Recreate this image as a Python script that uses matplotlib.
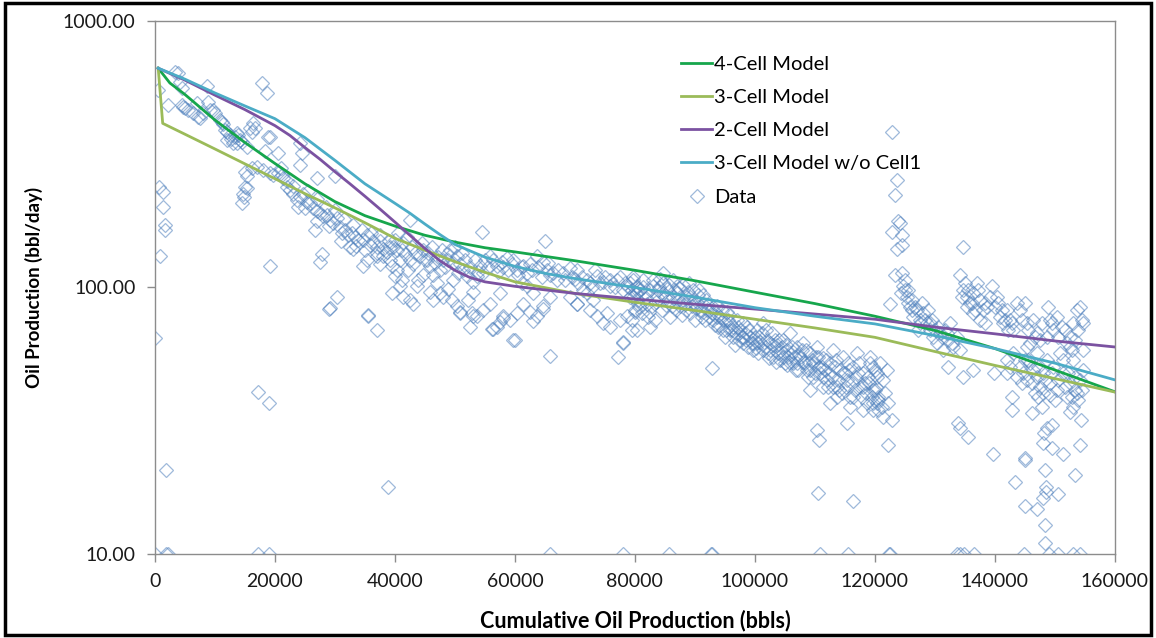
import matplotlib
matplotlib.use("Agg")
import matplotlib.pyplot as plt
from matplotlib.lines import Line2D
from matplotlib.patches import Rectangle
from matplotlib.ticker import FixedLocator, FuncFormatter, NullLocator

plt.rcParams['font.family'] = ['Lato', 'DejaVu Sans']

# ---- model curves: cumulative oil (bbl) vs. rate (bbl/day) ----
cell4_cum = [550, 2500, 5000, 10000, 15000, 20000, 25000, 30000, 35000, 40000, 45000, 50000,
             55000, 60000, 70000, 80000, 90000, 100000, 110000, 120000, 130000, 140000,
             150000, 160000]
cell4_rate = [665, 585, 530, 425, 350, 292, 245, 210, 186, 170, 157, 148,
              141, 136, 126, 116, 106, 96, 87, 78, 69, 59,
              49, 40.6]

cell3_cum = [550, 1300, 5000, 10000, 15000, 20000, 25000, 30000, 35000, 40000, 45000,
             50000, 55000, 60000, 70000, 80000, 90000, 100000, 110000, 120000, 130000,
             140000, 150000, 160000]
cell3_rate = [665, 413, 376, 331, 291, 256, 225, 199, 175, 153, 138,
              125, 114, 105, 95, 88, 82, 76, 70.5, 65, 57.5,
              51, 45.5, 40.5]

cell2_cum = [550, 5000, 10000, 15000, 20000, 22500, 25000, 27500, 30000, 32500, 35000,
             37500, 40000, 42500, 45000, 47500, 50000, 52500, 55000, 60000, 70000, 80000,
             90000, 100000, 110000, 120000, 130000, 140000, 150000, 160000]
cell2_rate = [665, 600, 527, 465, 405, 372, 335, 303, 272, 245, 220,
              197, 176, 157, 140, 126, 116, 109, 105, 101, 95, 90.5,
              86.5, 83, 79.5, 76, 71, 67, 63, 59.8]

cell3w_cum = [550, 5000, 10000, 15000, 20000, 25000, 30000, 35000, 40000, 42500, 45000,
              47500, 50000, 55000, 60000, 65000, 70000, 80000, 90000, 100000, 110000,
              120000, 130000, 140000, 150000, 160000]
cell3w_rate = [665, 605, 537, 480, 430, 365, 300, 245, 207, 190, 173,
               158, 145, 130, 120, 113, 108, 100, 92, 84, 78,
               73, 66, 59, 52, 45]

# ---- production data ----
early_cum = [0, 550, 720, 830, 1390, 1390, 1670, 1670, 1830, 2220, 3330, 3830, 4170, 4440,
             4450, 4720, 5000, 5560, 6390, 6940, 7220, 7500, 8060, 8610, 8890, 9170, 9720,
             10000, 10830, 11110, 11390, 11670, 11950, 11950, 12500, 12600, 13050, 13330,
             13610, 13610, 13900, 14170, 14450, 14450, 14720, 14800, 15000, 15000, 15280,
             15280, 15280, 15830, 16110, 16110, 16390, 16650, 16950, 17110, 17780, 18060,
             18330, 18610, 18890, 19000, 19170, 19170, 19170, 19720]
early_rate = [64.6, 551, 239, 131, 229, 201, 171, 164, 20.7, 484, 645, 637, 590, 484,
              559, 476, 470, 463, 451, 491, 437, 431, 451, 570, 498, 463, 463,
              451, 425, 419, 412, 390, 358, 384, 374, 362, 347, 368,
              347, 379, 372, 357, 352, 207, 225, 218, 272, 239, 261,
              236, 338, 396, 384, 280, 413, 396, 284, 40.6, 583, 276,
              324, 535, 368, 36.7, 120, 268, 368, 264]

mid1_cum = [20560, 20560, 21000, 21110, 21390, 21940, 22000, 22500, 23000, 23060, 23610,
            23890, 24170, 24170, 24170, 24450, 24720, 25000, 25280, 25500, 25830, 26390,
            26670, 26940, 26940, 27000, 27000, 27500, 27500, 27780, 28060, 28500, 28610,
            29000, 29050, 29170, 29170, 29720, 30000, 30000, 30280, 30280, 30830, 31000,
            31110, 31500, 31670, 32220, 32500, 32780, 33000, 33060, 33330, 33500, 33890,
            34500, 34720, 34720, 35000, 35280, 35280, 35550, 35560, 35830, 36000, 36390,
            36940, 36940, 36950, 37000, 37500, 37500, 37500, 38060, 38060, 38610, 38890,
            39000, 39170, 39170, 39500]
mid1_rate = [319, 268, 280, 264, 257, 239, 250, 232, 240, 225, 213,
             201, 289, 347, 219, 319, 225, 198, 210, 230, 207, 198,
             164, 193, 257, 215, 178, 190, 125, 134, 185, 200, 187,
             170, 83, 179, 83.6, 174, 261, 195, 182, 92.5, 169, 150,
             160, 180, 164, 157, 142, 160, 172, 140, 155, 143, 151,
             165, 151, 120, 138, 157, 127, 78, 79, 144, 160, 149,
             142, 131, 69, 135, 149, 123, 158, 140, 131, 136, 17.8,
             150, 142, 127, 120]

mid2_cum = [39450, 39720, 40000, 40280, 40280, 40560, 40830, 40830, 41110, 41390, 41390,
            41670, 42220, 42500, 42500, 42500, 43060, 43060, 43610, 43890, 44170, 44720,
            44720, 45280, 45830, 45830, 46390, 46390, 46950, 47500, 47500, 48060, 48060,
            48610, 48890, 49170, 49450, 49720, 50000, 50280, 50280, 50560, 50830, 50830,
            50830, 51390, 51950, 52220, 52500, 52780, 53000, 53060, 53060, 53610, 53610,
            54170, 54450, 54730, 55000, 55840, 55840, 56110, 56330, 56950, 56950, 57500,
            57500, 57780, 58000, 58060, 58610, 59170, 59450, 59720, 60000, 60280, 60280,
            61110, 61390, 61390, 61950, 62500, 62500, 63000, 63060, 63610, 63610, 64670,
            64720, 64720, 65000, 65280, 65830, 65840, 65840, 66950, 68060, 69170, 69170,
            70000, 70280, 70330, 70560, 71390, 71950, 72500, 72500, 73060, 73610, 73610,
            74720, 74730, 75280, 75840, 75840, 76950, 77220, 77500, 78000, 78060, 78060,
            78610, 79170, 79450, 80000, 80280, 80560]
mid2_rate = [95, 142, 110, 138, 116, 160, 127, 101, 107, 147, 92.5,
             134, 116, 179, 127, 90, 123, 87, 101, 107, 131, 138,
             111, 127, 120, 96, 111, 90, 104, 116, 95, 127, 92.5,
             134, 99, 138, 90, 107, 142, 131, 85, 113, 123, 80,
             81, 116, 110, 90, 71, 80, 78, 96, 105, 110, 78,
             120, 162, 82, 127, 131, 87, 70, 70, 120, 71, 95,
             74, 125, 77, 78, 129, 75.5, 123, 63.5, 63.5, 116, 80,
             104, 120, 87, 101, 123, 81, 75, 95, 131, 78, 83,
             125, 85, 149, 116, 55.5, 111, 92.5, 107, 113, 118, 92.5,
             108, 87, 87, 104, 98, 95, 104, 82.4, 90, 110, 78,
             73.5, 105, 80, 101, 71, 107, 55, 75.5, 62, 98, 62.7,
             78, 92.5, 69, 81, 95, 87]

mid3_cum = [40000, 41110, 41950, 42780, 43340, 44450, 45000, 45560, 46110, 46670, 47230,
            47780, 48340, 48890, 49730, 51120, 51670, 52500, 53340, 53890, 54730, 55560,
            56390, 57230, 58060, 58890, 59730, 60560, 61110, 61950, 62780, 63890, 64450,
            65560, 66390, 67230, 68340, 69450, 70280, 71120, 71950, 72780, 73340, 74170,
            75000, 75840, 76670, 77500, 78340, 78890, 79730, 80280]
mid3_rate = [150.7, 138.3, 155.1, 142.3, 134.3, 146.4, 126.8, 134.3, 142.3, 123.2, 130.5,
             138.3, 119.7, 126.8, 123.2, 134.3, 126.8, 119.7, 126.8, 114.7, 113.0, 119.7,
             126.8, 114.7, 119.7, 116.3, 126.8, 111.4, 119.7, 113.0, 116.3, 119.7, 109.8,
             123.2, 113.0, 116.3, 106.7, 109.8, 116.3, 109.8, 106.7, 100.7, 116.3, 103.7,
             109.8, 106.7, 100.7, 109.8, 103.7, 100.7, 106.7, 100.7]

late_cum = [79170, 79450, 79450, 79730, 80000, 80280, 80280, 80560, 80840, 81110, 81390,
            81670, 81950, 82230, 82500, 82500, 82780, 83060, 83340, 83610, 83890, 84170,
            84450, 84730, 84730, 85000, 85280, 85560, 85840, 86110, 86390, 86670, 86950,
            86950, 87230, 87500, 87780, 88060, 88340, 88620, 88890, 89170, 89170, 89450,
            89730, 90000, 90280, 90560, 90840, 91110, 91390, 91390, 91670, 91950, 92230,
            92780, 93060, 93340, 93620, 93620, 93890, 94170, 94450, 94730, 95000, 95280,
            95560, 95840, 95840, 96110, 96390, 96670, 96950, 97230, 97500, 97780, 98060,
            98060, 98340, 98620, 98890, 99170, 99450, 99730, 100000, 100280, 100280, 100560,
            100840, 101110, 101390, 101670, 101950, 102230, 102500, 102500, 102780, 103060,
            103340, 103620, 103890, 104170, 104450, 104730, 104730, 105000, 105280, 105280,
            105560, 105840, 106120, 106390, 106670, 106950, 106950, 107230, 107500, 107780,
            108060, 108340, 108620, 108890, 109170, 109170, 109170, 109450, 109730, 110000,
            110280, 110560, 110840, 111120, 111390, 111390, 111670, 111950, 112230, 112500,
            112500, 112780, 113060, 113340, 113620, 113620, 113890, 114170, 114450, 114730,
            115000, 115280, 115560, 115840, 115840, 116120, 116390, 116670, 116950, 117230,
            117500, 117780, 118060, 118060, 118340, 118620, 118890, 119170, 119170, 119450,
            119730, 119730, 119730, 120000, 120000, 120280, 120280, 120280, 120560, 120560,
            120840, 121110, 121390, 121390, 121670, 121950, 122220]
late_rate = [104, 98, 75.5, 92.5, 82.4, 69.3, 101, 90, 98, 80, 107,
             95, 87, 77.8, 71.3, 98, 85, 101, 75.5, 92.5, 98, 108,
             82.4, 113, 104, 92.5, 99, 90, 77.8, 85, 107, 98, 95,
             101, 90, 85, 78.9, 102, 87, 92.5, 96.5, 80, 92.5, 85,
             98, 75.5, 88.5, 94, 82.4, 77.8, 94, 87, 75.5, 82.4, 86,
             80, 75.5, 72.3, 85, 77.8, 71.3, 77.8, 82.4, 69.3, 65.4, 81,
             75.5, 73.4, 69.3, 69.3, 65.4, 60.8, 75.5, 71.3, 69.3, 65.4, 61.7,
             65.4, 67.3, 71.3, 60, 65.4, 61.7, 58.2, 65.4, 69.3, 61.7, 56.6,
             62.7, 67.3, 73.4, 60, 63.5, 56.6, 61.7, 58.2, 67.3, 55,
             63.5, 60.8, 56.6, 53.5, 60, 63.5, 56.6, 52, 58.2, 51.2,
             55, 67.3, 60, 52, 55, 60, 52, 49, 55, 58.2,
             61.7, 52, 49, 46.3, 56.6, 41.2, 49, 53.5, 52, 47.6,
             60, 55, 47.6, 50.5, 54.2, 42.5, 49, 45, 42.5, 52,
             36.7, 46.3, 58.2, 50.5, 42.5, 38.9, 45, 49, 40.1, 55,
             47.6, 45, 52, 38.9, 35.7, 43.7, 50.5, 41.2, 56.6, 47.6,
             42.5, 38.9, 47.6, 34.7, 43.7, 36.7, 46.3, 52, 55, 38.9,
             41.2, 50.5, 34.7, 49, 41.2, 46.3, 36.7, 47.6, 34.7, 37.8,
             51.9, 35.7, 45, 32.7, 40.1, 49, 36.8]

late2_cum = [79610, 80170, 80730, 81280, 81840, 82390, 82950, 83500, 84060, 84610, 85170,
             85730, 86280, 86840, 87390, 87950, 88500, 89060, 89620, 90170, 90730, 91280,
             91840, 92390, 92950, 93500, 94060, 94610, 95170, 95730, 96280, 96840, 97390,
             97950, 98500, 99060, 99620, 100170, 100730, 101280, 101840, 102390, 102950,
             103500, 104060, 104610, 105170, 105720, 106280, 106840, 107390, 107950, 108500,
             109060, 109620, 110170, 110730, 111280, 111840, 112390, 112950, 113510, 114060,
             114620, 115170, 115730, 116280, 116840, 117390, 117950, 118510, 119060, 119620,
             120170, 120450]
late2_rate = [109.8, 95.1, 84.7, 100.7, 91.1, 81.2, 106.7, 88.5, 100.7, 95.1, 86.0,
              102.2, 92.4, 82.4, 99.3, 89.8, 82.4, 103.7, 88.5, 83.5, 97.9, 81.2,
              89.8, 77.7, 84.7, 80.0, 72.3, 75.5, 69.3, 78.9, 71.3, 67.3, 63.5,
              73.4, 63.5, 69.3, 61.7, 59.1, 65.4, 58.3, 69.3, 54.2, 60.8,
              52.7, 63.5, 55.0, 60.8, 52.7, 57.4, 49.0, 55.8, 52.7, 58.3,
              51.9, 46.3, 55.0, 50.5, 46.3, 53.5, 47.6, 42.5, 53.5, 41.2,
              47.6, 42.5, 49.0, 38.9, 46.3, 52.0, 42.5, 40.1, 43.7, 36.8,
              42.5, 38.9]

tail_cum = [122500, 122780, 122780, 123340, 123420, 123610, 123610, 123890, 124170, 124280,
            124450, 124450, 124450, 124730, 125000, 125280, 125560, 125840, 126120, 126390,
            126950, 127230, 127500, 127780, 128060, 128620, 128890, 129170, 129450, 129730,
            130280, 130560, 130840, 131390, 131670, 132230, 132500, 133060, 133620, 134170,
            134170, 134450, 135000, 135280, 135560, 135840, 136390, 136390, 136950, 137500,
            137500, 138060, 138340, 138620, 139450, 140280, 140840, 141390, 141950, 141950,
            141950, 142500, 143060, 143060, 143620, 144170, 144170, 144450, 144730, 145000,
            145280, 145280, 145280, 145840, 145840, 146390, 146390, 146670, 146950, 146950,
            146950, 147500, 147500, 148060, 148060, 148620, 148890, 149170, 149170, 149730,
            149730, 150280, 150280, 150840, 151120, 151390, 151390, 151950, 151950, 152500,
            152500, 152780, 153060, 153340, 153620, 153620, 153890, 154170, 154170, 154450,
            154730, 154730]
tail_rate = [87, 384, 162, 222, 111, 253, 140, 177, 174, 95,
             157, 144, 113, 101, 107, 92.4, 98, 84.7, 89.8, 77.8,
             82.3, 69.3, 75.5, 87.3, 80, 73.4, 82.3, 69.3, 75.5, 65.4,
             61.8, 71.3, 67.3, 58.3, 69.3, 63.5, 73.4, 60, 65.4, 58.3,
             111, 92.4, 104, 84.7, 98, 87.3, 95, 80, 104, 89.8,
             75.5, 82.3, 73.4, 84.7, 101, 92.4, 77.8, 73.4, 82.3, 53.5,
             47.6, 75.5, 69.3, 56.6, 87.3, 82.3, 50.5, 43.7, 47.6, 87.3,
             73.4, 45, 60, 61.8, 51.9, 75.5, 49, 40.1, 67.3, 46.3,
             56.6, 63.5, 42.5, 47.6, 40.1, 53.5, 84.7, 75.5, 43.7, 69.3,
             50.5, 77.8, 41.2, 56.6, 71.3, 47.6, 53.5, 61.8, 38.9, 43.7,
             60, 58.3, 53.5, 63.5, 82.3, 40.1, 69.3, 84.7, 45, 75.5,
             49, 58.3]

tail2_cum = [125000, 125560, 126120, 126670, 127500, 128340, 129170, 130000, 131120, 131950,
             132780, 134730, 135280, 136120, 136670, 137230, 138340, 139170, 140000, 140560,
             141110, 141670, 142230, 142780, 144450, 145560, 146670, 147780, 148620, 149450,
             150560, 151670, 152500, 153060, 154730, 142500, 143620, 145000, 146120, 147230,
             148340, 149450, 150560, 151670, 152230, 153340, 153890, 154450, 147230, 150000]
tail2_rate = [97.9, 87.3, 82.3, 84.7, 73.4, 75.5, 73.4, 69.3, 65.4, 67.3,
              61.8, 98, 92.4, 87.3, 82.3, 98, 87.3, 92.4, 84.7, 87.3,
              82.3, 75.5, 69.3, 73.4, 75.5, 69.3, 65.4, 73.4, 65.4, 73.4,
              65.4, 69.3, 65.4, 73.4, 73.4, 50.5, 46.3, 53.5, 43.7, 50.5,
              45, 47.6, 45, 42.5, 47.6, 46.3, 37.8, 41.2, 38.9, 37.8]

sparse_cum = [92780, 110380, 110600, 110500, 115280, 116400, 122220, 122780, 132230, 133900,
              134170, 134670, 134730, 135560, 136390, 139730, 139900, 142780, 142780, 143340,
              145000, 145000, 145000, 145430, 146120, 146950, 147780, 148060, 148060, 148200,
              148340, 148340, 148340, 148500, 148500, 148620, 149170, 149450, 149450, 150560,
              151390, 152500, 152780, 153060, 153340, 153340, 154170, 154280]
sparse_rate = [49.8, 29.2, 26.8, 16.9, 30.9, 15.8, 25.6, 31.8, 50.5, 30.9,
               29.6, 142, 46.2, 27.5, 49, 23.7, 47.6, 38.9, 34.7, 18.7,
               22.9, 22.6, 15.1, 53.4, 33.7, 14.8, 35.7, 26, 16.2, 28.5,
               20.7, 12.9, 11, 17.9, 17.1, 29.7, 39.5, 24.9, 30.5, 16.8,
               23.7, 34.2, 38.9, 35.7, 41.2, 19.8, 25.6, 31.8]

floor_cum = [0, 1830, 2100, 17110, 19000, 65830, 78000, 85650, 92600, 92800, 110800,
             115570, 122400, 122550, 133650, 134230, 134830, 136480, 144830, 148970,
             150430, 153080, 154150]
floor_rate = [10.0] * len(floor_cum)

data_cum = (early_cum + mid1_cum + mid2_cum + mid3_cum + late_cum + late2_cum
            + tail_cum + tail2_cum + sparse_cum + floor_cum)
data_rate = (early_rate + mid1_rate + mid2_rate + mid3_rate + late_rate + late2_rate
             + tail_rate + tail2_rate + sparse_rate + floor_rate)

x_ticks = [0, 20000, 40000, 60000, 80000, 100000, 120000, 140000, 160000]
y_ticks = [10, 100, 1000]

# ---- figure ----
fig = plt.figure(figsize=(11.56, 6.38), dpi=100)
ax = fig.add_axes([0.134, 0.1317, 0.8305, 0.8354])

axis_grey = '#8c8c8c'
marker_blue = '#4f81bd'
marker_kw = dict(marker='D', markersize=6.8, markerfacecolor='none',
                 markeredgecolor=marker_blue, markeredgewidth=0.9, alpha=0.55)

ax.plot(data_cum, data_rate, linestyle='none', zorder=2, **marker_kw)

ax.plot(cell4_cum, cell4_rate, color='#16a64c', lw=2.0, zorder=3)
ax.plot(cell3_cum, cell3_rate, color='#9bbb59', lw=2.0, zorder=3)
ax.plot(cell2_cum, cell2_rate, color='#7b52a1', lw=2.0, zorder=3)
ax.plot(cell3w_cum, cell3w_rate, color='#4bacc6', lw=2.0, zorder=3)

ax.set_yscale('log')
ax.set_xlim(0, 160000)
ax.set_ylim(10, 1000)
ax.xaxis.set_major_locator(FixedLocator(x_ticks))
ax.yaxis.set_major_locator(FixedLocator(y_ticks))
ax.yaxis.set_minor_locator(NullLocator())
ax.yaxis.set_major_formatter(FuncFormatter(lambda v, p: f"{v:.2f}"))
ax.xaxis.set_major_formatter(FuncFormatter(lambda v, p: f"{int(v)}"))

for side in ['left', 'right', 'top', 'bottom']:
    ax.spines[side].set_color(axis_grey)
    ax.spines[side].set_linewidth(1.0)
ax.tick_params(axis='both', which='major', direction='out', length=6, width=1.0,
               color=axis_grey, labelsize=14, labelcolor='#1a1a1a', pad=8)

ax.set_xlabel('Cumulative Oil Production (bbls)', fontsize=15.5, fontweight='bold',
              labelpad=14)
ax.set_ylabel('Oil Production (bbl/day)', fontsize=13.5, fontweight='bold',
              labelpad=14)

handles = [
    Line2D([], [], color='#16a64c', lw=2.0),
    Line2D([], [], color='#9bbb59', lw=2.0),
    Line2D([], [], color='#7b52a1', lw=2.0),
    Line2D([], [], color='#4bacc6', lw=2.0),
    Line2D([], [], linestyle='none', **marker_kw),
]
labels = ['4-Cell Model', '3-Cell Model', '2-Cell Model', '3-Cell Model w/o Cell1', 'Data']
ax.legend(handles, labels, loc='upper left', bbox_to_anchor=(0.548, 0.935),
          frameon=False, fontsize=14.5, handlelength=1.55, handletextpad=0.1,
          labelspacing=0.8, borderpad=0, borderaxespad=0)

fig.patches.append(Rectangle((0.004, 0.004), 0.992, 0.992, transform=fig.transFigure,
                             fill=False, edgecolor='black', linewidth=2.5))

fig.savefig('out.png', dpi=100, facecolor='white')
